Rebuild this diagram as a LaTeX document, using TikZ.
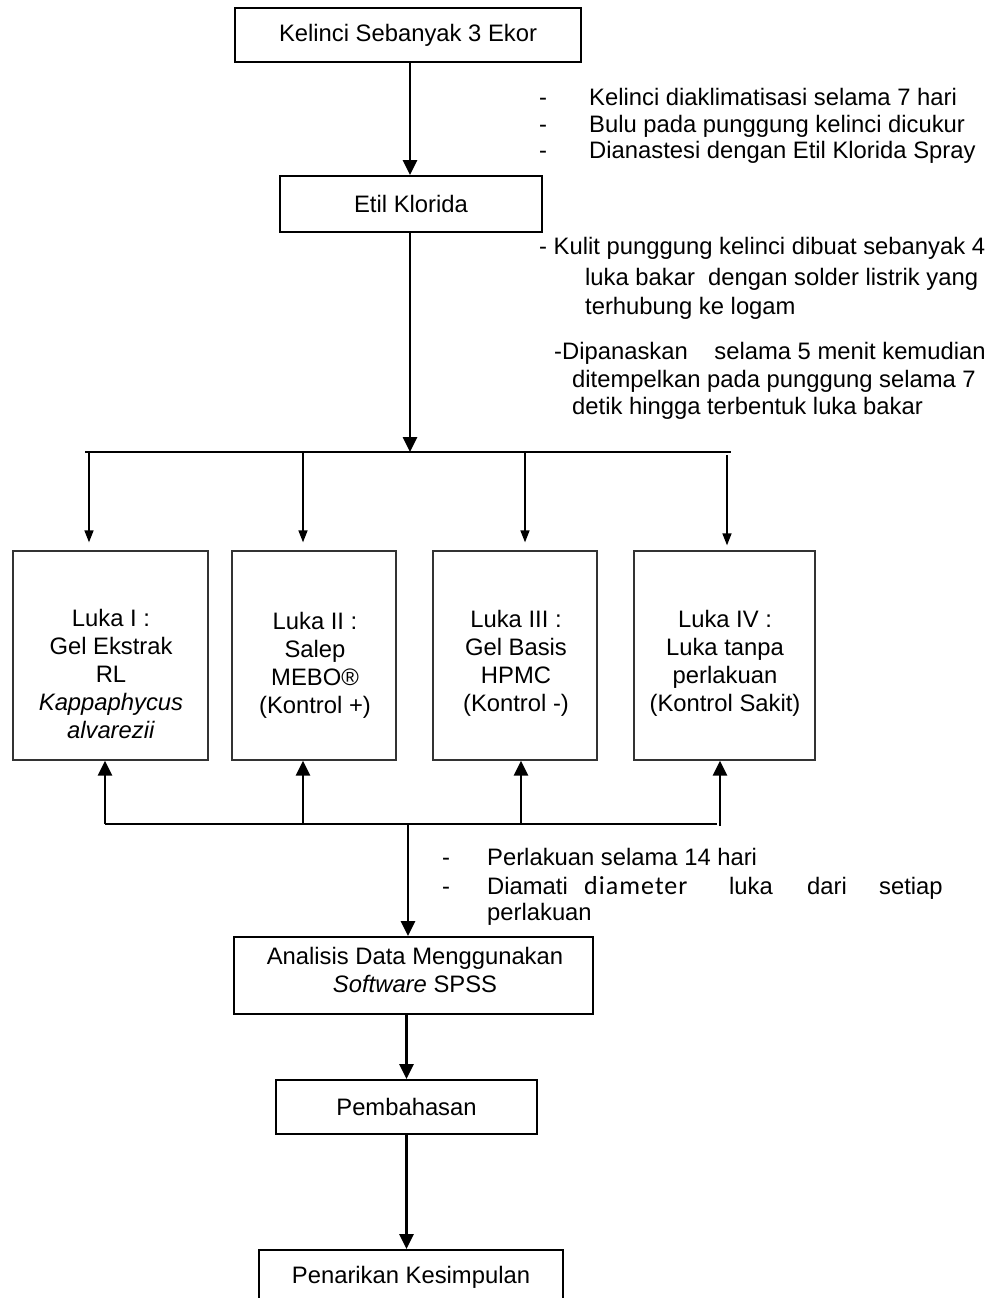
\documentclass[tikz,border=0pt]{standalone}
\usepackage{fontspec}
\setmainfont{Liberation Sans}
\newfontfamily\carlito[LetterSpace=4]{Carlito}
\usetikzlibrary{arrows.meta}
\begin{document}
\begin{tikzpicture}[x=1pt,y=-1pt,
  font=\fontsize{23.8pt}{28pt}\selectfont,
  mainbox/.style={draw=black, line width=1.8pt, inner sep=0pt},
  lukabox/.style={draw=black!80, line width=1.3pt, inner sep=0pt, minimum height=209pt},
  boxtext/.style={align=center, inner sep=0pt},
  rtext/.style={anchor=base west, inner sep=0pt},
  thinarrow/.style={line width=1.5pt, -{Triangle[length=12pt,width=9pt]}},
  thickarrow/.style={line width=2.6pt, -{Triangle[length=15pt,width=14pt]}},
  thickline/.style={line width=2.6pt}
]
\useasboundingbox (0,0) rectangle (997,1298);
\clip (0,0) rectangle (997,1298);

% main boxes
\node[mainbox, minimum width=346pt, minimum height=54pt] (top) at (408,35) {Kelinci Sebanyak 3 Ekor};
\node[mainbox, minimum width=262pt, minimum height=56pt] (etil) at (411,204) {Etil Klorida};

% Luka boxes
\node[lukabox, minimum width=195pt] (l1) at (110.5,655.5) {};
\node[lukabox, minimum width=164pt] (l2) at (314,655.5) {};
\node[lukabox, minimum width=164pt] (l3) at (515,655.5) {};
\node[lukabox, minimum width=181pt] (l4) at (724.5,655.5) {};
\node[boxtext] (l1t) at (111,674) {Luka I :\\Gel Ekstrak\\RL\\\textit{Kappaphycus}\\\textit{alvarezii}};
\node[boxtext] (l2t) at (315,665) {Luka II :\\Salep\\MEBO®\\(Kontrol +)};
\node[boxtext] (l3t) at (516,663) {Luka III :\\Gel Basis\\HPMC\\(Kontrol -)};
\node[boxtext] (l4t) at (725,663) {Luka IV :\\Luka tanpa\\perlakuan\\(Kontrol Sakit)};

% lower boxes
\node[mainbox, minimum width=359pt, minimum height=77pt] (ana) at (413.5,975.5) {};
\node[boxtext] (anat) at (415,970) {Analisis Data Menggunakan\\\textit{Software} SPSS};
\node[mainbox, minimum width=261pt, minimum height=54pt] (pemb) at (406.5,1107) {Pembahasan};
\node[mainbox, minimum width=304pt, minimum height=54pt] (pen) at (411,1277) {Penarikan Kesimpulan};

% top arrows
\draw[thickarrow] (top.south -| 410,0) -- (etil.north -| 410,0);
\coordinate (barL) at (85,452);
\coordinate (barR) at (731,452);
\coordinate (bartop) at (410,452);
\draw[thickline] (barL) -- (barR);
\draw[thickarrow] (etil.south -| bartop) -- (bartop);

% thin arrows to Luka boxes
\coordinate (t1) at (89,452);
\coordinate (t2) at (303,452);
\coordinate (t3) at (525,452);
\coordinate (t4) at (727,455);
\draw[thinarrow, shorten >=8pt] (t1) -- (t1 |- l1.north);
\draw[thinarrow, shorten >=8pt] (t2) -- (t2 |- l2.north);
\draw[thinarrow, shorten >=8pt] (t3) -- (t3 |- l3.north);
\draw[thinarrow, shorten >=5pt] (t4) -- (t4 |- l4.north);

% bottom bar and up arrows
\coordinate (b1) at (105,824);
\coordinate (b2) at (303,824);
\coordinate (b3) at (521,824);
\coordinate (b4) at (720,826);
\coordinate (bR) at (717,824);
\coordinate (b0) at (408,824);
\draw[thickline] (b1) -- (bR);
\draw[thickarrow] (b1) -- (b1 |- l1.south);
\draw[thickarrow] (b2) -- (b2 |- l2.south);
\draw[thickarrow] (b3) -- (b3 |- l3.south);
\draw[thickarrow] (b4) -- (b4 |- l4.south);
\draw[thickarrow] (b0) -- (b0 |- ana.north);

% lower arrows
\draw[thickarrow] (pemb.north |- ana.south) -- (pemb.north);
\draw[thickarrow] (pemb.south) -- (pemb.south |- pen.north);

% right side notes
\node[rtext] (n1d) at (539,105) {-};
\node[rtext] (n1) at (589,105) {Kelinci diaklimatisasi selama 7 hari};
\node[rtext] (n2d) at (539,132) {-};
\node[rtext] (n2) at (589,132) {Bulu pada punggung kelinci dicukur};
\node[rtext] (n3d) at (539,158) {-};
\node[rtext] (n3) at (589,158) {Dianastesi dengan Etil Klorida Spray};

\node[rtext] (k1) at (539,254) {- Kulit punggung kelinci dibuat sebanyak 4};
\node[rtext] (k2) at (585,285) {luka bakar\ \ dengan solder listrik yang};
\node[rtext] (k3) at (585,314) {terhubung ke logam};

\node[rtext] (d1) at (554,359) {-Dipanaskan\hspace{20pt} selama 5 menit kemudian};
\node[rtext] (d2) at (572,387) {ditempelkan pada punggung selama 7};
\node[rtext] (d3) at (572,414) {detik hingga terbentuk luka bakar};

\node[rtext] (p1d) at (442,865) {-};
\node[rtext] (p1) at (487,865) {Perlakuan selama 14 hari};
\node[rtext] (p2d) at (442,894) {-};
\node[rtext] (p2) at (487,894) {\makebox[0pt][l]{Diamati}\hspace{97pt}\makebox[0pt][l]{\carlito\fontsize{26pt}{28pt}\selectfont diameter}\hspace{145pt}\makebox[0pt][l]{luka}\hspace{78pt}\makebox[0pt][l]{dari}\hspace{72pt}setiap};
\node[rtext] (p3) at (487,920) {perlakuan};
\end{tikzpicture}
\end{document}
